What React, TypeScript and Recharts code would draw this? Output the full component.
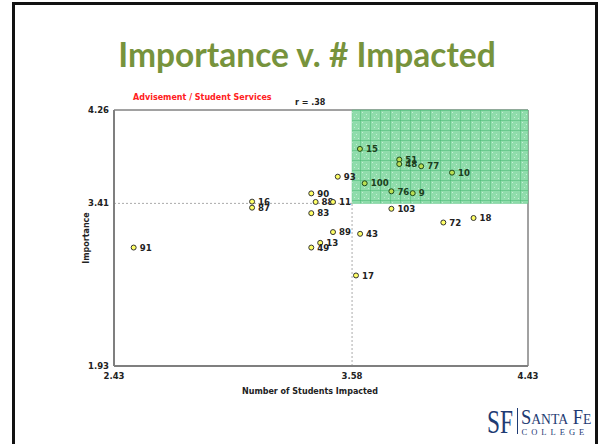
import React from 'react'
import {
  ScatterChart,
  Scatter,
  XAxis,
  YAxis,
  ReferenceArea,
  ReferenceLine,
} from 'recharts'

// item ids and their (students impacted, importance) means
const itemIds = [15, 93, 100, 90, 88, 11, 16, 87, 83, 51, 48, 77, 10, 76, 9, 103, 72, 18, 89, 43, 13, 49, 91, 17]
const impacted = [3.618, 3.511, 3.641, 3.383, 3.404, 3.488, 3.097, 3.097, 3.383, 3.808, 3.808, 3.914, 4.063, 3.77, 3.873, 3.77, 4.021, 4.167, 3.488, 3.619, 3.426, 3.383, 2.525, 3.599]
const importance = [3.906, 3.653, 3.593, 3.501, 3.423, 3.423, 3.426, 3.371, 3.321, 3.809, 3.768, 3.748, 3.69, 3.52, 3.503, 3.361, 3.236, 3.277, 3.149, 3.133, 3.051, 3.008, 3.008, 2.754]

const xTicks = [2.43, 3.58, 4.43]
const yTicks = [1.93, 3.41, 4.26]
const xCut = 3.58
const yCut = 3.41

const points = itemIds.map((id, i) => ({ id, x: impacted[i], y: importance[i] }))

const chartFont = '"DejaVu Sans", Verdana, sans-serif'
const logoBlue = '#1f3b73'

function PointShape(props: any) {
  const { cx, cy, payload } = props
  const inZone = payload.x >= xCut && payload.y >= yCut
  return (
    <g>
      <circle
        cx={cx}
        cy={cy}
        r={2.5}
        fill={inZone ? '#b9de52' : '#ffff66'}
        stroke={inZone ? '#1f4a1f' : '#333'}
        strokeWidth={1}
      />
      <text
        x={cx + 6}
        y={cy + 3.2}
        fontSize={8.6}
        fontWeight="bold"
        fontFamily={chartFont}
        fill={inZone ? '#1d3f1d' : '#222'}
      >
        {payload.id}
      </text>
    </g>
  )
}

export default function App() {
  return (
    <div
      style={{
        position: 'absolute',
        left: 0,
        top: 0,
        width: 602,
        height: 444,
        background: '#fff',
        overflow: 'hidden',
      }}
    >
      {/* slide frame */}
      <div
        style={{
          position: 'absolute',
          left: 12,
          top: 2,
          width: 586,
          height: 460,
          border: '3px solid #111',
          boxSizing: 'border-box',
        }}
      />
      <div
        style={{
          position: 'absolute',
          left: 0,
          width: 602,
          top: 34,
          textAlign: 'center',
          fontFamily: 'Lato, sans-serif',
          fontWeight: 'bold',
          fontSize: 33.5,
          color: '#77933c',
          paddingLeft: 12,
          boxSizing: 'border-box',
        }}
      >
        Importance v. # Impacted
      </div>

      <div style={{ position: 'absolute', left: 0, top: 0 }}>
        <ScatterChart
          width={602}
          height={444}
          margin={{ top: 110, right: 74, bottom: 48, left: 84 }}
        >
          <defs>
            <pattern id="zoneGrid" width="10" height="10" patternUnits="userSpaceOnUse">
              <rect width="10" height="10" fill="#8fdcab" />
              <rect x="2" y="2" width="1" height="1" fill="#c8f0d6" />
              <rect x="6" y="4" width="1" height="1" fill="#c8f0d6" />
              <rect x="4" y="7" width="1" height="1" fill="#c8f0d6" />
              <rect x="8" y="8" width="1" height="1" fill="#c8f0d6" />
              <path d="M0 0 H10 M0 0 V10" stroke="#45b872" strokeWidth="1" />
            </pattern>
          </defs>
          <XAxis
            type="number"
            dataKey="x"
            domain={[2.43, 4.43]}
            ticks={xTicks}
            tickFormatter={(v: number) => v.toFixed(2)}
            tick={{ fontSize: 8.5, fontWeight: 'bold', fill: '#222', fontFamily: chartFont }}
            tickLine={false}
            tickSize={0}
            axisLine={{ stroke: '#7f7f7f', strokeWidth: 2 }}
            tickMargin={7}
            height={30}
          />
          <YAxis
            type="number"
            dataKey="y"
            domain={[1.93, 4.26]}
            ticks={yTicks}
            tickFormatter={(v: number) => v.toFixed(2)}
            tick={{ fontSize: 8.5, fontWeight: 'bold', fill: '#222', fontFamily: chartFont }}
            tickLine={false}
            tickSize={0}
            axisLine={{ stroke: '#7f7f7f', strokeWidth: 2 }}
            tickMargin={5}
            width={30}
          />
          <ReferenceArea
            x1={2.43}
            x2={4.43}
            y1={1.93}
            y2={4.26}
            fill="none"
            stroke="#444"
            strokeWidth={1}
            ifOverflow="visible"
          />
          <ReferenceLine
            segment={[{ x: 2.43, y: yCut }, { x: xCut, y: yCut }]}
            stroke="#aaa"
            strokeDasharray="2 2"
          />
          <ReferenceLine
            segment={[{ x: xCut, y: 1.93 }, { x: xCut, y: yCut }]}
            stroke="#aaa"
            strokeDasharray="2 2"
          />
          <ReferenceArea
            x1={xCut}
            x2={4.43}
            y1={yCut}
            y2={4.26}
            fill="url(#zoneGrid)"
            fillOpacity={1}
            stroke="#5cc383"
            strokeWidth={0.5}
          />
          <Scatter data={points} shape={<PointShape />} isAnimationActive={false} />
          <text x={133} y={100} fontSize={8} fontWeight="bold" fill="#ff2020" fontFamily={chartFont}>
            Advisement / Student Services
          </text>
          <text x={295} y={105} fontSize={8} fontWeight="bold" fill="#222" fontFamily={chartFont}>
            r = .38
          </text>
          <text
            x={310}
            y={394}
            textAnchor="middle"
            fontSize={8}
            fontWeight="bold"
            fill="#222"
            fontFamily={chartFont}
          >
            Number of Students Impacted
          </text>
          <text
            x={89}
            y={238}
            textAnchor="middle"
            fontSize={8}
            fontWeight="bold"
            fill="#222"
            fontFamily={chartFont}
            transform="rotate(-90 89 238)"
          >
            Importance
          </text>
        </ScatterChart>
      </div>

      {/* college logo */}
      <svg
        width={117}
        height={40}
        style={{ position: 'absolute', left: 485, top: 404 }}
        fontFamily='"Liberation Serif", "DejaVu Serif", serif'
        fill={logoBlue}
      >
        <text x={2} y={29} fontSize={33} textLength={26} lengthAdjust="spacingAndGlyphs">
          SF
        </text>
        <line x1={32.5} y1={4} x2={32.5} y2={30} stroke={logoBlue} strokeWidth={1} />
        <g transform="translate(36 20) scale(0.88 1)">
          <text x={0} y={0} fontSize={21}>
            S<tspan fontSize={15.5}>ANTA</tspan> F<tspan fontSize={15.5}>E</tspan>
          </text>
        </g>
        <text x={36.5} y={30.5} fontSize={8.5} letterSpacing={4}>
          COLLEGE
        </text>
      </svg>
    </div>
  )
}
